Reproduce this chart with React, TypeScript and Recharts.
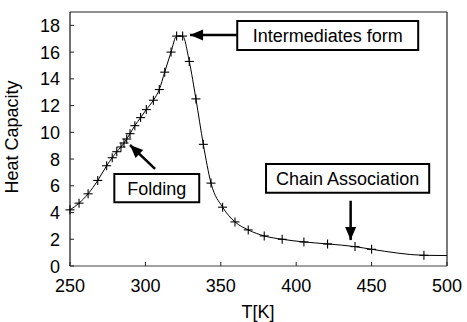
import React from 'react';
import {
  LineChart,
  Line,
  XAxis,
  YAxis,
  ReferenceLine,
  ReferenceArea,
  ReferenceDot,
} from 'recharts';

// Temperature (K)
const temps = [
  250, 256, 262, 268.4, 274.3, 278, 281, 283.8, 285.8, 287.6, 289.8, 293, 296.8,
  300.6, 305.3, 309.2, 312.8, 317, 320.7, 324.7, 329.1, 333.5, 338.4, 343.5,
  351.2, 359.4, 368.2, 378.8, 390.7, 405.1, 420.8, 439, 450, 484.7, 500,
];
// Heat capacity
const heatCap = [
  4.2, 4.7, 5.4, 6.4, 7.5, 8.1, 8.55, 8.9, 9.2, 9.5, 9.9, 10.5, 11.1,
  11.7, 12.4, 13.2, 14.5, 16.0, 17.2, 17.2, 15.3, 12.5, 9.1, 6.2,
  4.4, 3.3, 2.7, 2.25, 2.0, 1.8, 1.65, 1.45, 1.25, 0.8, 0.78,
];

const xTicks = [250, 300, 350, 400, 450, 500];
const yTicks = [0, 2, 4, 6, 8, 10, 12, 14, 16, 18];
const xDomain: [number, number] = [250, 500];
const yDomain: [number, number] = [0, 19];

// annotation boxes (data units)
const boxLabels = ['Intermediates form', 'Folding', 'Chain Association'];
const boxX1 = [360.9, 279.4, 380];
const boxX2 = [480.9, 335.7, 488.2];
const boxY1 = [16.16, 4.76, 5.48];
const boxY2 = [18.33, 6.88, 7.63];

// arrows (data units): tail -> tip, with head direction in degrees (screen)
const arrowFromX = [360.6, 306.4, 436.1];
const arrowFromY = [17.28, 7.26, 4.88];
const arrowToX = [329.6, 289.8, 436.1];
const arrowToY = [17.28, 9.05, 1.94];
const arrowAngle = [180, 224, 90];

const data = temps.map((T, i) => ({ T, C: heatCap[i] }));

const FONT = '"Liberation Sans", Arial, Helvetica, sans-serif';

const XTick = (props: any) => {
  const { x, y, payload } = props;
  return (
    <g>
      <line x1={x} y1={y} x2={x} y2={y - 4} stroke="#222" strokeWidth={1} />
      <text x={x} y={y + 26} textAnchor="middle" fontSize={18} fontFamily={FONT} fill="#000">
        {payload.value}
      </text>
    </g>
  );
};

const YTick = (props: any) => {
  const { x, y, payload } = props;
  return (
    <g>
      <line x1={x} y1={y} x2={x + 4} y2={y} stroke="#222" strokeWidth={1} />
      <text x={x - 10} y={y + 6.5} textAnchor="end" fontSize={18} fontFamily={FONT} fill="#000">
        {payload.value}
      </text>
    </g>
  );
};

const PlusDot = (props: any) => {
  const { cx, cy, payload } = props;
  if (cx == null || cy == null || payload.T >= xDomain[1]) return <g />;
  const s = 4.5;
  return (
    <g>
      <line x1={cx - s} y1={cy} x2={cx + s} y2={cy} stroke="#000" strokeWidth={1.1} />
      <line x1={cx} y1={cy - s} x2={cx} y2={cy + s} stroke="#000" strokeWidth={1.1} />
    </g>
  );
};

const makeHead = (angle: number) => (props: any) => {
  const { cx, cy } = props;
  return (
    <path
      d="M0,0 L-13,-5.5 L-13,5.5 Z"
      fill="#000"
      transform={`translate(${cx},${cy}) rotate(${angle})`}
    />
  );
};

export default function App() {
  return (
    <div style={{ position: 'absolute', left: 0, top: 0, background: '#fff' }}>
      <LineChart
        width={467}
        height={322}
        data={data}
        margin={{ top: 12, right: 20, bottom: 0, left: 0 }}
        style={{ fontFamily: FONT }}
      >
        <XAxis
          dataKey="T"
          type="number"
          domain={xDomain}
          ticks={xTicks}
          height={56}
          tickSize={0}
          tickMargin={0}
          tickLine={false}
          axisLine={{ stroke: '#444', strokeWidth: 1.2 }}
          tick={<XTick />}
          label={{
            content: () => (
              <text x={258} y={318} textAnchor="middle" fontSize={18} fontFamily={FONT} fill="#000">
                T[K]
              </text>
            ),
          }}
        />
        <YAxis
          dataKey="C"
          type="number"
          domain={yDomain}
          ticks={yTicks}
          width={70}
          tickSize={0}
          tickMargin={0}
          tickLine={false}
          axisLine={{ stroke: '#111', strokeWidth: 1.2 }}
          tick={<YTick />}
          label={{
            content: () => (
              <text
                x={18}
                y={137}
                transform="rotate(-90 18 137)"
                textAnchor="middle"
                fontSize={18}
                fontFamily={FONT}
                fill="#000"
              >
                Heat Capacity
              </text>
            ),
          }}
        />
        <ReferenceLine y={yDomain[1]} stroke="#222" strokeWidth={1.2} />
        <ReferenceLine x={xDomain[1]} stroke="#222" strokeWidth={1.2} />
        <Line
          type="monotone"
          dataKey="C"
          stroke="#000"
          strokeWidth={1}
          dot={<PlusDot />}
          activeDot={false}
          isAnimationActive={false}
        />
        {boxLabels.map((lab, i) => (
          <ReferenceArea
            key={'box' + i}
            x1={boxX1[i]}
            x2={boxX2[i]}
            y1={boxY1[i]}
            y2={boxY2[i]}
            fill="#fff"
            fillOpacity={1}
            stroke="#000"
            strokeWidth={2}
            label={{ value: lab, position: 'center', fontSize: 18, fill: '#000', fontFamily: FONT }}
          />
        ))}
        {arrowAngle.map((a, i) => (
          <ReferenceLine
            key={'arr' + i}
            segment={[
              { x: arrowFromX[i], y: arrowFromY[i] },
              { x: arrowToX[i], y: arrowToY[i] },
            ]}
            stroke="#000"
            strokeWidth={2.5}
          />
        ))}
        {arrowAngle.map((a, i) => (
          <ReferenceDot
            key={'head' + i}
            x={arrowToX[i]}
            y={arrowToY[i]}
            r={0}
            shape={makeHead(a)}
          />
        ))}
      </LineChart>
    </div>
  );
}
